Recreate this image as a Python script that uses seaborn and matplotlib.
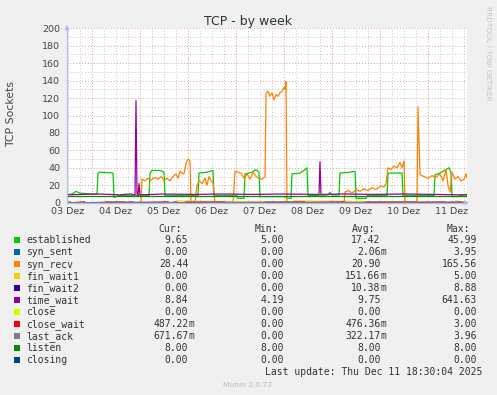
import matplotlib
matplotlib.use("Agg")
import matplotlib.pyplot as plt
import seaborn as sns
import numpy as np
import pandas as pd
from matplotlib.patches import Rectangle

sns.set_theme(style="white")
plt.rcParams["font.family"] = ["DejaVu Sans"]

# ---------------- data (x = hours since 03 Dez 00:00) ----------------
day_labels = ["03 Dez", "04 Dez", "05 Dez", "06 Dez", "07 Dez",
              "08 Dez", "09 Dez", "10 Dez", "11 Dez"]
y_ticks = [0, 20, 40, 60, 80, 100, 120, 140, 160, 180, 200]

est_t = [11.5, 14, 16, 18, 23, 26.5, 27, 28, 34.5, 35, 37, 52.5, 53, 54, 58, 60, 60.5,
         77, 77.5, 81.5, 84.5, 85, 96.5, 97, 100, 100.5, 104, 106, 107.5, 108, 120.5,
         121.5, 123.5, 124, 128, 130.5, 131.5, 132, 142, 143, 144, 147.5, 148, 153,
         155.5, 156, 161, 161.5, 171.5, 172, 179, 179.5, 195, 195.5, 198, 201, 202.5,
         203.5, 204, 207, 209, 211.5]
est_v = [9, 10, 13, 11, 10, 10, 34, 35, 34, 6, 8, 8, 34, 37, 37, 35, 8,
         8, 34, 35, 37, 8, 8, 5, 5, 33, 35, 38, 35, 7, 7,
         5, 5, 33, 34, 38, 40, 8, 9, 12, 9, 9, 34, 35,
         36, 5, 5, 8, 8, 34, 34, 8, 8, 32, 34, 38, 40,
         35, 7, 7, 9, 9.65]

recv_t = [11.5, 48.5, 49, 50.5, 52, 53.5, 55.5, 57, 58.5, 60, 61.5, 63, 64.5, 66, 67, 68,
          69, 70, 71, 72, 73, 73.5, 75.5, 76.5, 77.5, 79, 80.5, 81.5, 82.5, 83.5, 84.5,
          85.5, 94.5, 95.5, 97, 98.5, 100, 101.5, 103, 104.5, 106, 107.5, 109, 110.5,
          111, 112, 113, 114, 115, 116, 117, 118, 119, 120, 120.5, 121, 121.5, 150,
          150.5, 152, 154, 156, 158, 160, 162, 164, 166, 168, 170, 171, 172, 173.5, 175,
          176.5, 178, 179, 180, 180.5, 186.5, 187, 188, 190, 192, 194, 196, 198, 199.5,
          201, 202, 203, 204, 205.5, 207, 208.5, 210, 211, 211.5]
recv_v = [0, 0, 27, 25, 28, 26, 29, 27, 30, 26, 28, 25, 30, 33, 28, 36,
          34, 33, 45, 50, 48, 0, 0, 20, 25, 22, 28, 20, 30, 26, 22,
          0, 0, 36, 35, 34, 28, 33, 27, 35, 30, 28, 27, 30,
          125, 128, 122, 126, 118, 124, 122, 126, 128, 132, 130, 139, 0, 0,
          12, 14, 11, 15, 13, 16, 14, 17, 15, 19, 18, 22, 40, 38, 42,
          40, 46, 40, 48, 0, 0, 110, 32, 30, 28, 31, 29, 33, 25,
          38, 20, 12, 35, 27, 30, 25, 27, 33, 28.4]

tw_t = [11.5, 18, 28, 38, 43, 45.5, 46, 46.5, 47, 47.5, 48, 60, 75, 90, 105, 120,
        137.5, 138, 138.5, 150, 165, 180, 195, 211.5]
tw_v = [9, 9.5, 10, 9, 10, 9, 117, 10, 8, 22, 9, 10, 9.5, 10, 9.5, 10,
        9.5, 47, 9.5, 10, 9.5, 10, 9.5, 8.84]

cw_t = [11.5, 13, 14, 20, 21, 40, 41, 44, 45, 62, 63, 66, 67, 90, 91, 130, 131,
        150, 151, 185, 186, 200, 201, 208, 209, 211.5]
cw_v = [0, 1, 0, 1, 0, 1, 0, 1, 0, 1, 0, 1, 0, 1, 0, 1, 0,
        1, 0, 1, 0, 1, 0, 1, 0, 0.49]

la_t = [11.5, 30, 31, 70, 71, 110, 111, 160, 161, 211.5]
la_v = [0, 0, 1, 0, 1, 0, 1, 0, 1, 0.67]

fw1_t = [11.5, 66, 67, 124, 125, 205, 206, 211.5]
fw1_v = [0, 0, 2, 0, 2, 0, 2, 0]

zero_t = [11.5, 211.5]
zero_v = [0, 0]
listen_t = [11.5, 211.5]
listen_v = [8, 8]

legend_names = ["established", "syn_sent", "syn_recv", "fin_wait1", "fin_wait2",
                "time_wait", "close", "close_wait", "last_ack", "listen", "closing"]
legend_colors = ["#00CC00", "#0066B3", "#FF8000", "#FFCC00", "#330099",
                 "#990099", "#CCFF00", "#FF0000", "#808080", "#008F00", "#00487D"]
cur_vals = ["9.65", "0.00", "28.44", "0.00", "0.00", "8.84", "0.00", "487.22m",
            "671.67m", "8.00", "0.00"]
min_vals = ["5.00", "0.00", "0.00", "0.00", "0.00", "4.19", "0.00", "0.00",
            "0.00", "8.00", "0.00"]
avg_vals = ["17.42", "2.06m", "20.90", "151.66m", "10.38m", "9.75", "0.00",
            "476.36m", "322.17m", "8.00", "0.00"]
max_vals = ["45.99", "3.95", "165.56", "5.00", "8.88", "641.63", "0.00", "3.00",
            "3.96", "8.00", "0.00"]

series = {
    "established": (est_t, est_v),
    "syn_sent": (zero_t, zero_v),
    "syn_recv": (recv_t, recv_v),
    "fin_wait1": (fw1_t, fw1_v),
    "fin_wait2": (zero_t, zero_v),
    "time_wait": (tw_t, tw_v),
    "close": (zero_t, zero_v),
    "close_wait": (cw_t, cw_v),
    "last_ack": (la_t, la_v),
    "listen": (listen_t, listen_v),
    "closing": (zero_t, zero_v),
}

# ---------------- figure ----------------
W, H = 497, 395
fig = plt.figure(figsize=(W / 100, H / 100), dpi=100, facecolor="#F0F0F0")
ax = fig.add_axes([67 / W, 1 - 202.7 / H, 400 / W, (202.7 - 28.3) / H])
ax.set_facecolor("white")
ax.set_xlim(11.5, 211.5)
ax.set_ylim(0, 200)

# grid
for h in np.arange(12, 212, 6):
    if h % 24 != 0:
        ax.axvline(h, color="#c8c8c8", lw=0.7, ls=(0, (1, 2)), zorder=0.5)
for h in np.arange(24, 212, 24):
    ax.axvline(h, color="#e49a9a", lw=0.7, ls=(0, (1, 2)), zorder=0.6)
for v in np.arange(10, 201, 20):
    ax.axhline(v, color="#c8c8c8", lw=0.7, ls=(0, (1, 2)), zorder=0.5)
for v in np.arange(20, 201, 20):
    ax.axhline(v, color="#e49a9a", lw=0.7, ls=(0, (1, 2)), zorder=0.6)

for name, col in zip(legend_names, legend_colors):
    t, v = series[name]
    df = pd.DataFrame({"t": t, "v": v})
    sns.lineplot(data=df, x="t", y="v", ax=ax, color=col, lw=0.9,
                 estimator=None, sort=False, legend=False)

ax.set_xlabel("")
ax.set_ylabel("")
ax.set_xticks([12 + 24 * i for i in range(len(day_labels))])
ax.set_xticklabels(day_labels)
ax.set_yticks(y_ticks)
ax.set_yticklabels([str(v) for v in y_ticks])
ax.tick_params(axis="x", length=0, pad=3, labelsize=6.8, labelcolor="#444444")
ax.tick_params(axis="y", length=2, width=0.6, color="#999999", pad=3,
               labelsize=6.8, labelcolor="#444444")
for s in ["top", "right"]:
    ax.spines[s].set_visible(False)
for s in ["left", "bottom"]:
    ax.spines[s].set_color("#b4bce8")
    ax.spines[s].set_linewidth(0.9)

# axis arrows
ax.annotate("", xy=(1.012, 0), xytext=(0.99, 0), xycoords="axes fraction",
            arrowprops=dict(arrowstyle="-|>", color="#b4bce8", lw=0.9,
                            mutation_scale=6), annotation_clip=False)
ax.annotate("", xy=(0, 1.035), xytext=(0, 0.99), xycoords="axes fraction",
            arrowprops=dict(arrowstyle="-|>", color="#b4bce8", lw=0.9,
                            mutation_scale=6), annotation_clip=False)


def fx(x):
    return x / W


def fy(y):
    return 1 - y / H


fig.text(fx(248), fy(25), "TCP - by week", ha="center", va="baseline",
         fontsize=9, color="#333333")
fig.text(fx(11), fy(114), "TCP Sockets", ha="center", va="center",
         rotation=90, fontsize=7.8, color="#444444")
fig.text(fx(488), fy(53), "RRDTOOL / TOBI OETIKER", ha="center", va="center",
         rotation=270, fontsize=5.3, color="#c4c4c4")

mono = "DejaVu Sans Mono"
fs = 7.0
tc = "#333333"
hdr_x = [181.5, 278, 375, 470.5]
num_x = [188.3, 284.3, 380.5, 476.7]
for hx, lab in zip(hdr_x, ["Cur:", "Min:", "Avg:", "Max:"]):
    fig.text(fx(hx), fy(231.5), lab, ha="right", va="baseline",
             family=mono, fontsize=fs, color=tc)

for i, (name, col) in enumerate(zip(legend_names, legend_colors)):
    base = 243.3 + 12.0 * i
    fig.patches.append(Rectangle((fx(14), fy(base - 0.5)), 6 / W, 6 / H,
                                 transform=fig.transFigure, facecolor=col,
                                 edgecolor="none"))
    fig.text(fx(26.5), fy(base), name, ha="left", va="baseline",
             family=mono, fontsize=fs, color=tc)
    for nx, val in zip(num_x, [cur_vals[i], min_vals[i], avg_vals[i], max_vals[i]]):
        num, suf = (val[:-1], val[-1]) if val.endswith("m") else (val, "")
        fig.text(fx(nx), fy(base), num, ha="right", va="baseline",
                 family=mono, fontsize=fs, color=tc)
        if suf:
            fig.text(fx(nx), fy(base), suf, ha="left", va="baseline",
                     family=mono, fontsize=fs, color=tc)

fig.text(fx(482.7), fy(375.3), "Last update: Thu Dec 11 18:30:04 2025",
         ha="right", va="baseline", family=mono, fontsize=fs, color=tc)
fig.text(fx(247.7), fy(387), "Munin 2.0.73", ha="center", va="baseline",
         fontsize=5.4, color="#bbbbbb")

fig.savefig("out.png", dpi=100, facecolor=fig.get_facecolor())
